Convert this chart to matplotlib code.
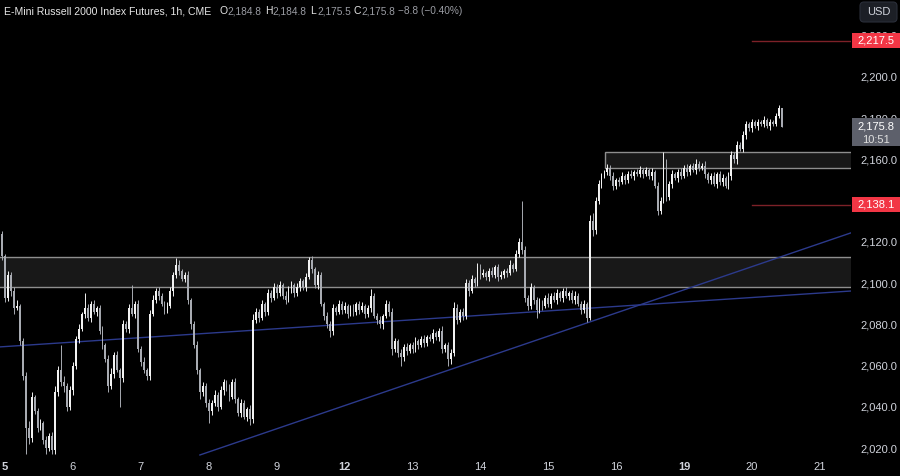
import matplotlib.pyplot as plt
from matplotlib.patches import Rectangle, FancyBboxPatch
from matplotlib.transforms import IdentityTransform

plt.rcParams['font.family'] = ['Liberation Sans', 'DejaVu Sans']

# 1h candles, index 0 = first bar of the 5th (2 bars of the 4th before it)
first_index = -2
first_open = 2117.0
closes = [
    2124, 2113,
    # 5
    2093, 2104, 2096, 2088, 2089, 2072, 2055, 2030, 2025, 2045, 2038, 2030, 2032, 2024, 2020, 2026, 2019, 2047, 2058, 2052, 2050, 2040, 2048,
    # 6
    2060, 2073, 2078, 2085, 2088, 2083, 2090, 2086, 2088, 2077, 2070, 2063, 2050, 2056, 2065, 2058, 2054, 2080, 2078, 2088, 2085, 2090, 2068,
    # 7
    2062, 2058, 2055, 2085, 2092, 2096, 2094, 2090, 2087, 2089, 2096, 2104, 2109, 2106, 2102, 2104, 2092, 2080, 2070, 2058, 2047, 2050, 2042,
    # 8
    2038, 2042, 2046, 2040, 2048, 2052, 2049, 2045, 2052, 2044, 2037, 2042, 2035, 2039, 2034, 2082, 2086, 2083, 2090, 2086, 2095, 2093, 2098,
    # 9
    2095, 2099, 2094, 2092, 2097, 2099, 2095, 2098, 2101, 2098, 2103, 2111, 2107, 2099, 2104, 2090, 2084, 2080, 2077, 2088, 2086, 2090, 2087,
    # 12
    2089, 2085, 2088, 2086, 2090, 2087, 2089, 2085, 2088, 2094, 2084, 2082, 2080, 2084, 2090, 2086, 2068, 2072, 2066, 2064, 2069, 2067, 2070,
    # 13
    2068, 2072, 2070, 2073, 2071, 2074, 2073, 2076, 2074, 2077, 2068, 2070, 2063, 2066, 2088, 2082, 2086, 2084, 2100, 2096, 2102, 2100, 2108,
    # 14
    2104, 2105, 2103, 2106, 2104, 2108, 2103, 2104, 2106, 2105, 2109, 2107, 2114, 2120, 2116, 2093, 2089, 2098, 2092, 2087, 2091, 2089, 2093,
    # 15
    2090, 2094, 2092, 2095, 2093, 2096, 2094, 2095, 2092, 2094, 2090, 2087, 2090, 2083, 2130, 2126, 2140, 2148, 2152, 2154, 2156, 2152, 2147,
    # 16
    2150, 2149, 2152, 2150, 2153, 2152, 2154, 2153, 2155, 2153, 2155, 2152, 2154, 2147, 2135, 2140, 2158, 2142, 2148, 2153, 2151, 2154, 2152,
    # 19
    2156, 2154, 2157, 2155, 2158, 2156, 2157, 2153, 2150, 2152, 2148, 2153, 2149, 2151, 2147, 2152, 2162, 2160, 2167, 2165, 2172, 2177, 2175,
    # 20
    2178, 2176, 2178, 2177, 2179, 2176, 2178, 2177, 2181, 2184.8, 2175.8,
]
upper_wick = [
    2, 1.5,
    1, 2, 1.5, 2, 3, 1, 1.5, 2, 3, 2, 1, 1.5, 2, 1, 2, 1.5, 2, 3, 2, 12, 3, 1.5, 2,
    2, 1.5, 2, 1, 7, 2, 1.5, 2, 1, 1.5, 2, 1, 2, 3, 1.5, 2, 1, 2, 1.5, 2, 11, 1.5, 2,
    1.5, 2, 1, 2, 2.5, 1.5, 2, 1, 1.5, 2, 2, 1.5, 3, 2, 1, 1.5, 2, 1, 1.5, 2, 1, 2, 1.5,
    2, 1.5, 2, 1, 2, 1.5, 1, 2, 1.5, 2, 1, 2, 1.5, 1, 2, 3, 2, 1.5, 2, 1, 2, 1.5, 2,
    1.5, 2, 1, 2, 1.5, 2, 1, 2, 1.5, 1, 2, 1.5, 2, 1, 2, 1.5, 1, 2, 1.5, 2, 1, 2, 1.5,
    2, 1, 1.5, 2, 1, 1.5, 2, 1, 1.5, 3, 1, 1.5, 2, 1, 2, 1.5, 2, 1.5, 1, 2, 1.5, 2, 1,
    1.5, 2, 1, 1.5, 2, 1, 1.5, 2, 1, 1.5, 2, 1, 1.5, 2, 3, 2, 1.5, 2, 2, 1.5, 2, 1, 2,
    1.5, 2, 1, 1.5, 2, 1, 1.5, 2, 1, 1.5, 2, 1, 2, 2, 20, 2, 1.5, 2, 1, 1.5, 2, 1, 1.5,
    2, 1, 1.5, 2, 1, 1.5, 2, 1, 1.5, 2, 1, 1.5, 2, 1, 3, 4, 2, 2, 1.5, 1, 2, 1.5, 2,
    1, 1.5, 2, 1, 1.5, 2, 1, 1.5, 2, 1, 1.5, 1, 2, 1, 2, 2, 5.5, 2, 1.5, 2, 1, 1.5, 2,
    1.5, 2, 1, 1.5, 2, 1, 1.5, 2, 1, 1.5, 2, 1, 1.5, 2, 1, 2, 2, 1.5, 2, 1.5, 2, 1.5, 1,
    1.5, 1, 1.5, 1, 2, 1, 1.5, 1, 1.5, 1.7, 0,
]
lower_wick = [
    1.5, 2,
    2, 1.5, 2, 3, 1, 2, 2, 13, 3, 2, 1.5, 2, 1, 2, 3, 1.5, 2, 2, 1.5, 2, 3, 2, 1.5,
    2, 1.5, 2, 1, 2, 1.5, 2, 1, 2, 1.5, 2, 1, 3, 1.5, 2, 1, 14, 2, 1.5, 2, 1, 2, 1.5,
    2, 1.5, 2, 2, 1, 1.5, 2, 1, 2, 1.5, 1, 2, 1.5, 2, 1, 1.5, 2, 2, 1.5, 2, 3, 1.5, 2,
    6, 2, 1.5, 2, 1, 2, 1.5, 2, 1, 2, 1.5, 2, 1, 2, 3, 2, 1.5, 2, 1, 2, 1.5, 2, 1,
    2, 1, 1.5, 2, 1, 2, 1.5, 1, 2, 1.5, 2, 1, 2, 1.5, 2, 1, 2, 1.5, 3, 2, 1.5, 1, 2,
    1.5, 2, 1, 2, 1.5, 2, 1, 2, 1.5, 2, 1, 2, 1.5, 2, 1, 2, 3, 1.5, 2, 4, 1.5, 2, 1,
    2, 1.5, 2, 1, 2, 1.5, 1, 2, 1.5, 2, 2, 1.5, 3, 2, 1.5, 2, 1, 2, 1.5, 2, 1, 2, 1.5,
    2, 1, 1.5, 2, 1, 1.5, 2, 1, 1.5, 2, 1, 1.5, 1, 1.5, 2, 2, 2, 1.5, 2, 4, 1.5, 2, 1,
    1.5, 2, 1, 2, 1.5, 2, 1, 2, 1.5, 2, 1, 2, 1.5, 2, 1, 3, 2, 1.5, 2, 1, 1.5, 2, 2,
    1.5, 2, 1, 2, 1.5, 1, 2, 1, 1.5, 2, 1, 1.5, 2, 1, 2, 1.5, 1, 2, 1.5, 2, 1, 2, 1.5,
    1, 2, 1.5, 1, 2, 1.5, 1, 2, 1.5, 2, 1, 2, 1.5, 2, 1, 1.5, 2, 1.5, 2, 1, 1.5, 2, 1,
    1.5, 1, 1.5, 1, 1.5, 1, 1.5, 1, 1, 1, 0.3,
]

day_labels = ['5', '6', '7', '8', '9', '12', '13', '14', '15', '16', '19', '20', '21']
week_start = ['5', '12', '19']
bars_per_day = 23

# drawings
zone_low = (2098.2, 2112.7)
zone_high = (2155.9, 2163.6)
zone_high_start = 203.2
red_levels = [2217.5, 2138.1]
red_start = 253.0
trend_a = ([-1.7, 286.5], [2069.1, 2096.2])
trend_b = ([66.0, 286.5], [2016.7, 2124.4])
last_price = 2175.8

bg = '#000000'
txt = '#d1d4dc'

fig = plt.figure(figsize=(9, 4.76), dpi=100, facecolor=bg)
ax = fig.add_axes([0, 20 / 476, 851 / 900, 456 / 476])
ax.set_facecolor(bg)
xmin, xmax = -1.7, 286.5
ax.set_xlim(xmin, xmax)
ax.set_ylim(2016.2, 2237.3)
for s in ax.spines.values():
    s.set_visible(False)

# zones
ax.add_patch(Rectangle((xmin - 5, zone_low[0]), xmax - xmin + 10, zone_low[1] - zone_low[0],
                       facecolor='#181818', edgecolor='#8e8e8e', lw=1, zorder=1))
ax.add_patch(Rectangle((zone_high_start, zone_high[0]), xmax - zone_high_start + 5, zone_high[1] - zone_high[0],
                       facecolor='#181818', edgecolor='#8e8e8e', lw=1, zorder=1))

# trendlines
ax.plot(trend_a[0], trend_a[1], color='#2c3a8c', lw=1, zorder=2)
ax.plot(trend_b[0], trend_b[1], color='#2c3a8c', lw=1, zorder=2)

# red levels
for lv in red_levels:
    ax.plot([red_start, xmax], [lv, lv], color='#7d2128', lw=1, zorder=2)

# candles
opens = [first_open] + closes[:-1]
for k in range(len(closes)):
    x = first_index + k
    o, c = opens[k], closes[k]
    hi = max(o, c) + upper_wick[k]
    lo = min(o, c) - lower_wick[k]
    col = '#f2f2f2' if c >= o else '#a8abb2'
    ax.vlines(x, lo, hi, color=col, lw=0.7, zorder=3)
    h = max(abs(c - o), 0.5)
    ax.bar(x, h, bottom=min(o, c), width=0.62, color=col, lw=0, zorder=4)

# price scale
ticks = list(range(2020, 2240, 20))
ax.yaxis.tick_right()
ax.set_yticks(ticks)
ax.set_yticklabels([f"{t:,.1f}" for t in ticks])
ax.tick_params(axis='y', length=0, pad=7, labelsize=8, labelcolor=txt)

# time scale
ax.set_xticks([k * bars_per_day for k in range(len(day_labels))])
ax.set_xticklabels(day_labels)
ax.tick_params(axis='x', length=0, pad=4, labelsize=8, labelcolor=txt)
for lab in ax.get_xticklabels():
    if lab.get_text() in week_start:
        lab.set_fontweight('bold')

# labels on price scale
yt = ax.get_yaxis_transform()
for lv in red_levels:
    ax.add_patch(Rectangle((1.001, lv - 3.7), 0.057, 7.4, transform=yt, facecolor='#f23645',
                           lw=0, clip_on=False, zorder=10))
    ax.text(1.029, lv, f"{lv:,.1f}", transform=yt, ha='center', va='center', fontsize=8,
            color='white', clip_on=False, zorder=11)
ax.add_patch(Rectangle((1.001, last_price - 9.3), 0.057, 13.7, transform=yt, facecolor='#5d606b',
                       lw=0, clip_on=False, zorder=10))
ax.text(1.029, last_price, f"{last_price:,.1f}", transform=yt, ha='center', va='center',
        fontsize=8, color='white', clip_on=False, zorder=11)
ax.text(1.029, last_price - 6.2, "10:51", transform=yt, ha='center', va='center',
        fontsize=8, color='#e0e0e0', clip_on=False, zorder=11)

# header
hy = 1 - 11 / 476
fig.text(4 / 900, hy, "E-Mini Russell 2000 Index Futures, 1h, CME", color='#e6e6e6',
         fontsize=7.6, va='center')
header = [("O", "2,184.8", 220), ("H", "2,184.8", 265), ("L", "2,175.5", 310), ("C", "2,175.8", 354)]
for letter, val, px in header:
    fig.text(px / 900, hy, letter, color='#e6e6e6', fontsize=7.5, va='center')
    fig.text((px + 7) / 900, hy, val, color='#9a9ca3', fontsize=7.3, va='center')
fig.text(398 / 900, hy, "\u22128.8 (\u22120.40%)", color='#9a9ca3', fontsize=7.3, va='center')

# USD button
fig.add_artist(FancyBboxPatch((860, 454), 37, 20, boxstyle='round,pad=0,rounding_size=4',
                              facecolor='#1c1f26', edgecolor='#2a2e39', lw=0.8,
                              transform=IdentityTransform()))
fig.text(878.5 / 900, 1 - 12 / 476, "USD", color=txt, fontsize=8, ha='center', va='center')

fig.savefig("out.png", dpi=100, facecolor=bg)
